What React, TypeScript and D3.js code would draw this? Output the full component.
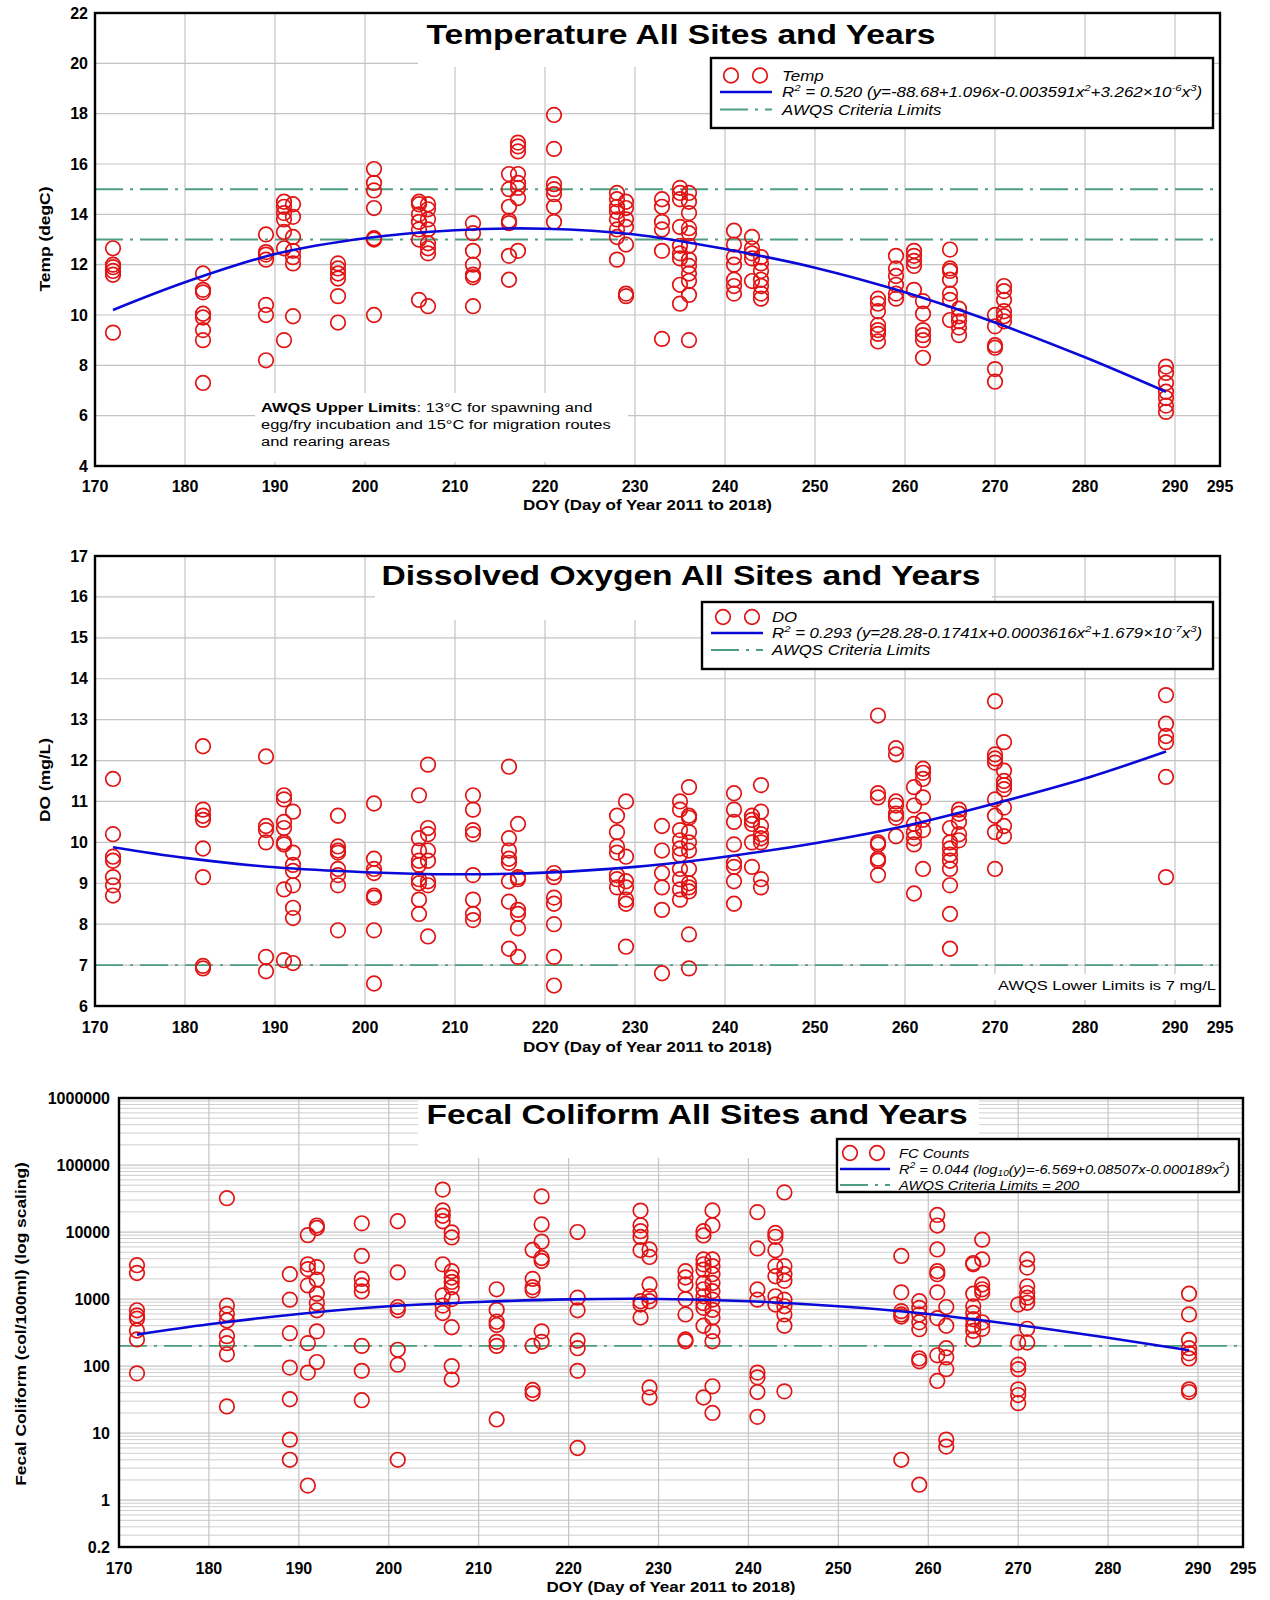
import * as d3 from "d3";

const FONT = "'Liberation Sans', Arial, Helvetica, sans-serif";
const RED = "#e01414";
const BLUE = "#0a0ad8";
const GREEN = "#4e9e80";
const GRID = "#c4c4c4";

// sampling days shared by the three panels
const sampleDays = [172, 182, 189, 191, 192, 197, 201, 206, 207, 212, 216, 217, 221, 228, 229, 233, 235, 236, 241, 243, 244, 257, 259, 261, 262, 265, 266, 270, 271, 289];

const tempByDay = [
  [12.65, 12.0, 11.9, 11.75, 11.6, 9.3],
  [11.65, 11.0, 10.9, 10.05, 9.9, 9.4, 9.0, 7.3],
  [13.2, 12.5, 12.4, 12.2, 10.4, 10.0, 8.2],
  [14.5, 14.3, 14.05, 13.8, 13.3, 12.65, 9.0],
  [14.4, 13.9, 13.1, 12.55, 12.3, 12.05, 9.95],
  [12.05, 11.85, 11.65, 11.45, 10.75, 9.7],
  [15.8, 15.25, 14.95, 14.25, 13.05, 13.0, 10.0],
  [14.5, 14.4, 14.0, 13.7, 13.4, 13.0, 10.6],
  [14.4, 14.2, 13.8, 13.4, 12.85, 12.65, 12.45, 10.35],
  [13.65, 13.25, 12.55, 12.0, 11.6, 11.5, 10.35],
  [15.6, 15.0, 14.3, 13.75, 13.65, 12.35, 11.4],
  [16.85, 16.7, 16.5, 15.6, 15.25, 15.05, 14.65, 12.55],
  [17.95, 16.6, 15.2, 15.0, 14.8, 14.3, 13.7],
  [14.85, 14.6, 14.3, 14.1, 13.8, 13.4, 13.1, 12.2],
  [14.5, 14.25, 13.8, 13.5, 12.8, 10.85, 10.75],
  [14.6, 14.3, 13.7, 13.4, 12.55, 9.05],
  [15.05, 14.85, 14.6, 13.5, 12.75, 12.45, 12.25, 11.2, 10.45],
  [14.85, 14.5, 14.05, 13.45, 13.25, 12.75, 12.2, 11.95, 11.65, 11.35, 10.8, 9.0],
  [13.35, 12.8, 12.3, 12.0, 11.4, 11.15, 10.85],
  [13.1, 12.65, 12.45, 12.25, 11.35],
  [12.3, 12.05, 11.75, 11.4, 11.15, 10.85, 10.65],
  [10.65, 10.45, 10.15, 9.6, 9.4, 9.25, 8.95],
  [12.35, 11.85, 11.55, 11.2, 10.85, 10.65],
  [12.55, 12.35, 12.15, 11.95, 11.0],
  [10.55, 10.05, 9.4, 9.2, 9.0, 8.3],
  [12.6, 11.85, 11.75, 11.4, 10.85, 10.6, 9.8],
  [10.25, 9.95, 9.75, 9.5, 9.2],
  [10.0, 9.55, 8.8, 8.7, 7.85, 7.35],
  [11.15, 10.95, 10.6, 10.15, 9.95, 9.75],
  [7.95, 7.7, 7.3, 6.95, 6.7, 6.4, 6.15],
];

const doByDay = [
  [11.55, 10.2, 9.65, 9.55, 9.15, 8.95, 8.7],
  [12.35, 10.8, 10.65, 10.55, 9.85, 9.15, 6.98, 6.92],
  [12.1, 10.4, 10.3, 10.0, 7.2, 6.85],
  [11.15, 11.05, 10.5, 10.35, 10.0, 9.95, 8.85, 7.12],
  [10.75, 9.75, 9.45, 9.3, 8.95, 8.4, 8.15, 7.05],
  [10.65, 9.9, 9.8, 9.75, 9.35, 9.2, 8.95, 7.85],
  [10.95, 9.6, 9.35, 9.25, 8.7, 8.65, 7.85, 6.55],
  [11.15, 10.1, 9.8, 9.55, 9.45, 9.1, 9.0, 8.6, 8.25],
  [11.9, 10.35, 10.2, 9.8, 9.55, 9.05, 8.95, 7.7],
  [11.15, 10.8, 10.3, 10.2, 9.2, 8.6, 8.25, 8.1],
  [11.85, 10.1, 9.8, 9.6, 9.5, 9.05, 8.55, 7.4],
  [10.45, 9.15, 9.1, 8.35, 8.25, 7.9, 7.2],
  [9.25, 9.15, 8.65, 8.5, 8.0, 7.2, 6.5],
  [10.65, 10.25, 9.9, 9.75, 9.2, 9.1, 8.9],
  [11.0, 9.65, 9.05, 8.9, 8.6, 8.5, 7.45],
  [10.4, 9.8, 9.25, 8.9, 8.35, 6.8],
  [11.0, 10.8, 10.3, 10.05, 9.85, 9.7, 9.35, 9.1, 8.85, 8.6],
  [11.35, 10.65, 10.6, 10.25, 10.0, 9.8, 9.35, 9.0, 8.9, 8.8, 7.75, 6.92],
  [11.2, 10.8, 10.5, 9.95, 9.5, 9.4, 9.05, 8.5],
  [10.65, 10.55, 10.45, 10.0, 9.4],
  [11.4, 10.75, 10.4, 10.2, 10.1, 10.0, 9.1, 8.9],
  [13.1, 11.2, 11.1, 10.0, 9.95, 9.6, 9.55, 9.2],
  [12.3, 12.15, 11.0, 10.9, 10.7, 10.6, 10.15],
  [11.35, 10.9, 10.45, 10.25, 10.1, 9.95, 8.75],
  [11.8, 11.7, 11.55, 11.1, 10.55, 10.3, 9.35],
  [10.35, 10.0, 9.85, 9.7, 9.55, 9.35, 8.95, 8.25, 7.4],
  [10.8, 10.7, 10.5, 10.2, 10.05],
  [13.45, 12.15, 12.05, 11.95, 11.05, 10.65, 10.25, 9.35],
  [12.45, 11.75, 11.5, 11.4, 11.3, 10.85, 10.4, 10.15],
  [13.6, 12.9, 12.6, 12.45, 11.6, 9.15],
];

const fcByDay = [
  [3200, 2450, 680, 570, 510, 340, 250, 78],
  [32000, 800, 600, 480, 280, 220, 150, 25],
  [2350, 980, 310, 95, 32, 8, 4],
  [9000, 3300, 2800, 1600, 220, 80, 1.65],
  [12500, 11500, 3000, 1950, 1200, 870, 680, 330, 115],
  [13500, 4400, 2000, 1600, 1300, 200, 85, 31],
  [14500, 2500, 760, 680, 175, 105, 4],
  [43000, 21000, 17500, 14500, 3300, 1130, 800, 620],
  [9900, 8300, 2600, 2100, 1800, 1500, 1000, 380, 100, 63],
  [1400, 690, 460, 410, 230, 200, 16],
  [5400, 2000, 1500, 1350, 200, 44, 39],
  [34000, 13000, 7200, 4100, 3700, 330, 230],
  [10000, 1050, 680, 240, 185, 85, 6],
  [20900, 12600, 10300, 8450, 5350, 930, 830, 530],
  [5500, 4250, 1650, 1100, 930, 48, 34],
  [2600, 2100, 1650, 1000, 590, 250, 235],
  [10300, 8900, 3900, 3300, 2750, 1740, 1400, 1100, 870, 740, 400, 34],
  [21000, 12600, 3900, 3100, 2350, 1740, 1310, 980, 690, 530, 330, 235, 50, 20],
  [19800, 5700, 1390, 980, 80, 68, 41, 17.5],
  [9700, 8500, 5350, 3100, 2190, 1100, 830],
  [39000, 3100, 2350, 1870, 980, 780, 590, 400, 42],
  [4400, 1260, 660, 590, 550, 4],
  [930, 740, 590, 450, 355, 130, 118, 1.7],
  [18000, 12500, 5500, 2600, 2350, 1260, 520, 145, 60],
  [760, 400, 185, 135, 90, 8, 6.3],
  [3450, 3300, 1200, 780, 620, 500, 400, 335, 250],
  [7700, 3900, 1650, 1400, 1250, 450, 360],
  [830, 225, 105, 90, 45, 37, 28],
  [3900, 2950, 1550, 1230, 1050, 880, 360, 225],
  [1200, 590, 245, 185, 155, 130, 45, 41],
];

// fitted curves
const fitDays = [172, 180, 190, 200, 210, 220, 230, 240, 250, 260, 270, 280, 289];
const tempFit = [10.2, 11.3, 12.42, 13.05, 13.37, 13.43, 13.2, 12.62, 11.88, 10.9, 9.7, 8.32, 6.95];
const doFit = [9.88, 9.62, 9.39, 9.27, 9.22, 9.26, 9.4, 9.65, 9.98, 10.4, 10.95, 11.56, 12.22];
const fcFit = [295, 420, 600, 780, 905, 990, 1005, 930, 780, 600, 410, 265, 172];

const xTicks = [170, 180, 190, 200, 210, 220, 230, 240, 250, 260, 270, 280, 290, 295];
const tempTicks = [4, 6, 8, 10, 12, 14, 16, 18, 20, 22];
const doTicks = [6, 7, 8, 9, 10, 11, 12, 13, 14, 15, 16, 17];
const fcTicks = [0.2, 1, 10, 100, 1000, 10000, 100000, 1000000];
const fcTickLabels = ["0.2", "1", "10", "100", "1000", "10000", "100000", "1000000"];
const tempLimits = [13, 15];
const doLimits = [7];
const fcLimits = [200];

// the source figure is stretched sideways; text follows the same stretch
const STRETCH = 1.2;

type Part = string | { sup: string } | { sub: string };

function Rich({ parts, size }: { parts: Part[]; size: number }) {
  let shift = 0;
  return (
    <>
      {parts.map((p, i) => {
        let target = 0;
        let text = "";
        let fs = size;
        if (typeof p === "string") {
          text = p;
        } else if ("sup" in p) {
          target = -size * 0.42;
          text = p.sup;
          fs = size * 0.68;
        } else {
          target = size * 0.22;
          text = p.sub;
          fs = size * 0.68;
        }
        const dy = target - shift;
        shift = target;
        return (
          <tspan key={i} dy={dy} fontSize={fs}>
            {text}
          </tspan>
        );
      })}
    </>
  );
}

function SText({ x, y, sx = STRETCH, rotate = 0, children, ...rest }: any) {
  const rot = rotate ? ` rotate(${rotate})` : "";
  return (
    <text transform={`translate(${x},${y})${rot} scale(${sx},1)`} {...rest}>
      {children}
    </text>
  );
}

type Legend = {
  box: [number, number, number, number];
  c1: number;
  c2: number;
  lineX: [number, number];
  textX: number;
  rows: [number, number, number];
  size: number;
  sx: number;
  labels: [Part[], Part[], Part[]];
};

type PanelProps = {
  left: number;
  right: number;
  top: number;
  bottom: number;
  log?: boolean;
  yDomain: [number, number];
  yTicks: number[];
  yTickLabels?: string[];
  tickRight: number;
  values: number[][];
  fit: number[];
  limits: number[];
  limitWidth: number;
  title: string;
  titleY: number;
  titleX: number;
  titleBox: [number, number, number, number];
  yLabel: string;
  yLabelX: number;
  yLabelY: number;
  xLabelY: number;
  xTickY: number;
  legend: Legend;
  noteBox?: [number, number, number, number];
  note?: any;
};

function Panel(p: PanelProps) {
  const x = d3.scaleLinear().domain([170, 295]).range([p.left, p.right]);
  const y: any = p.log
    ? d3.scaleLog().domain(p.yDomain).range([p.bottom, p.top])
    : d3.scaleLinear().domain(p.yDomain).range([p.bottom, p.top]);

  const fitLine = d3
    .line<number>()
    .x((_, i) => x(fitDays[i]))
    .y((v) => y(v))
    .curve(d3.curveCatmullRom.alpha(0.5));

  const majors = p.yTicks.filter((t) => t > p.yDomain[0] && t < p.yDomain[1]);
  const minors: number[] = [];
  if (p.log) {
    for (let e = -1; e <= 5; e++) {
      for (let k = 2; k <= 9; k++) {
        const v = k * Math.pow(10, e);
        if (v > p.yDomain[0] && v < p.yDomain[1]) minors.push(v);
      }
    }
  }
  const gridDays = xTicks.filter((d) => d > 170 && d < 295);
  const pts = sampleDays.flatMap((d, i) => p.values[i].map((v) => [d, v]));
  const lg = p.legend;

  return (
    <g fontFamily={FONT}>
      {/* grid */}
      {minors.map((v) => (
        <line key={"m" + v} x1={p.left} x2={p.right} y1={y(v)} y2={y(v)} stroke="#cfcfcf" strokeWidth={1} />
      ))}
      {majors.map((v) => (
        <line key={"h" + v} x1={p.left} x2={p.right} y1={y(v)} y2={y(v)} stroke={GRID} strokeWidth={1.2} />
      ))}
      {gridDays.map((d) => (
        <line key={"v" + d} x1={x(d)} x2={x(d)} y1={p.top} y2={p.bottom} stroke={GRID} strokeWidth={1.2} />
      ))}
      <rect
        x={p.titleBox[0]}
        y={p.titleBox[1]}
        width={p.titleBox[2] - p.titleBox[0]}
        height={p.titleBox[3] - p.titleBox[1]}
        fill="#fff"
      />
      {p.noteBox && (
        <rect
          x={p.noteBox[0]}
          y={p.noteBox[1]}
          width={p.noteBox[2] - p.noteBox[0]}
          height={p.noteBox[3] - p.noteBox[1]}
          fill="#fff"
        />
      )}
      {/* criteria limits */}
      {p.limits.map((v) => (
        <line
          key={"l" + v}
          x1={p.left}
          x2={p.right}
          y1={y(v)}
          y2={y(v)}
          stroke={GREEN}
          strokeWidth={p.limitWidth}
          strokeDasharray="28,7,3,7"
        />
      ))}
      {/* samples */}
      {pts.map(([d, v], i) => (
        <circle key={i} cx={x(d)} cy={y(v)} r={7.3} fill="none" stroke={RED} strokeWidth={1.7} />
      ))}
      <path d={fitLine(p.fit) || ""} fill="none" stroke={BLUE} strokeWidth={2.6} />
      {/* frame */}
      <rect x={p.left} y={p.top} width={p.right - p.left} height={p.bottom - p.top} fill="none" stroke="#000" strokeWidth={2.4} />
      {/* title */}
      <SText x={p.titleX} y={p.titleY} textAnchor="middle" fontSize={28} fontWeight="bold">
        {p.title}
      </SText>
      {p.note}
      {/* ticks */}
      {p.yTicks.map((t, i) => (
        <text key={"yt" + t} x={p.tickRight} y={y(t) + 5.5} textAnchor="end" fontSize={16} fontWeight="bold">
          {p.yTickLabels ? p.yTickLabels[i] : String(t)}
        </text>
      ))}
      {xTicks.map((t) => (
        <text key={"xt" + t} x={x(t)} y={p.xTickY} textAnchor="middle" fontSize={16} fontWeight="bold">
          {t}
        </text>
      ))}
      <SText x={(p.left + p.right) / 2 - 10} y={p.xLabelY} sx={1.17} textAnchor="middle" fontSize={14.5} fontWeight="bold">
        DOY (Day of Year 2011 to 2018)
      </SText>
      <SText x={p.yLabelX} y={p.yLabelY} rotate={-90} textAnchor="middle" fontSize={14.5} fontWeight="bold">
        {p.yLabel}
      </SText>
      {/* legend */}
      <rect
        x={lg.box[0]}
        y={lg.box[1]}
        width={lg.box[2] - lg.box[0]}
        height={lg.box[3] - lg.box[1]}
        fill="#fff"
        stroke="#000"
        strokeWidth={2.4}
      />
      <circle cx={lg.c1} cy={lg.rows[0]} r={7.3} fill="none" stroke={RED} strokeWidth={1.7} />
      <circle cx={lg.c2} cy={lg.rows[0]} r={7.3} fill="none" stroke={RED} strokeWidth={1.7} />
      <line x1={lg.lineX[0]} x2={lg.lineX[1]} y1={lg.rows[1]} y2={lg.rows[1]} stroke={BLUE} strokeWidth={2.6} />
      <line
        x1={lg.lineX[0]}
        x2={lg.lineX[1]}
        y1={lg.rows[2]}
        y2={lg.rows[2]}
        stroke={GREEN}
        strokeWidth={1.8}
        strokeDasharray="28,7,3,7"
      />
      {lg.labels.map((parts, i) => (
        <SText key={"lt" + i} x={lg.textX} y={lg.rows[i] + lg.size * 0.36} sx={lg.sx} fontSize={lg.size} fontStyle="italic">
          <Rich parts={parts} size={lg.size} />
        </SText>
      ))}
    </g>
  );
}

export default function App() {
  return (
    <svg
      width={1270}
      height={1600}
      style={{ position: "absolute", left: 0, top: 0, display: "block", background: "#fff" }}
    >
      <rect width={1270} height={1600} fill="#fff" />
      <Panel
        left={95}
        right={1220}
        top={13}
        bottom={466}
        yDomain={[4, 22]}
        yTicks={tempTicks}
        tickRight={88}
        values={tempByDay}
        fit={tempFit}
        limits={tempLimits}
        limitWidth={2}
        title="Temperature All Sites and Years"
        titleX={681}
        titleY={44}
        titleBox={[418, 14, 945, 67]}
        yLabel="Temp (degC)"
        yLabelX={50}
        yLabelY={239}
        xLabelY={510}
        xTickY={492}
        legend={{
          box: [711, 58, 1213, 128],
          c1: 731,
          c2: 760,
          lineX: [720, 772],
          textX: 782,
          rows: [75.5, 92, 109.5],
          size: 14,
          sx: 1.21,
          labels: [
            ["Temp"],
            ["R", { sup: "2" }, " = 0.520  (y=-88.68+1.096x-0.003591x", { sup: "2" }, "+3.262×10", { sup: "-6" }, "x", { sup: "3" }, ")"],
            ["AWQS Criteria Limits"],
          ],
        }}
        noteBox={[255, 393, 628, 462]}
        note={
          <SText x={261} y={0} sx={1.22} fontSize={13.5}>
            <tspan x={0} y={412}>
              <tspan fontWeight="bold">AWQS Upper Limits</tspan>: 13°C for spawning and
            </tspan>
            <tspan x={0} y={429}>egg/fry incubation and 15°C for migration routes</tspan>
            <tspan x={0} y={446}>and rearing areas</tspan>
          </SText>
        }
      />
      <Panel
        left={95}
        right={1220}
        top={556}
        bottom={1006}
        yDomain={[6, 17]}
        yTicks={doTicks}
        tickRight={88}
        values={doByDay}
        fit={doFit}
        limits={doLimits}
        limitWidth={1.6}
        title="Dissolved Oxygen All Sites and Years"
        titleX={681}
        titleY={585}
        titleBox={[375, 557, 992, 620]}
        yLabel="DO (mg/L)"
        yLabelX={50}
        yLabelY={780}
        xLabelY={1052}
        xTickY={1033}
        legend={{
          box: [702, 602, 1213, 669],
          c1: 723,
          c2: 752,
          lineX: [711, 763],
          textX: 772,
          rows: [617, 633, 650],
          size: 14,
          sx: 1.2,
          labels: [
            ["DO"],
            ["R", { sup: "2" }, " = 0.293 (y=28.28-0.1741x+0.0003616x", { sup: "2" }, "+1.679×10", { sup: "-7" }, "x", { sup: "3" }, ")"],
            ["AWQS Criteria Limits"],
          ],
        }}
        noteBox={[990, 974, 1218, 1000]}
        note={
          <SText x={1216} y={990} sx={1.22} textAnchor="end" fontSize={13.5}>
            AWQS Lower Limits is 7 mg/L
          </SText>
        }
      />
      <Panel
        left={119}
        right={1243}
        top={1098}
        bottom={1547}
        log
        yDomain={[0.2, 1000000]}
        yTicks={fcTicks}
        yTickLabels={fcTickLabels}
        tickRight={110}
        values={fcByDay}
        fit={fcFit}
        limits={fcLimits}
        limitWidth={1.6}
        title="Fecal Coliform All Sites and Years"
        titleX={697}
        titleY={1124}
        titleBox={[418, 1099, 979, 1158]}
        yLabel="Fecal Coliform (col/100ml) (log scaling)"
        yLabelX={26}
        yLabelY={1324}
        xLabelY={1592}
        xTickY={1574}
        legend={{
          box: [837, 1139, 1239, 1192],
          c1: 850,
          c2: 877,
          lineX: [840, 890],
          textX: 899,
          rows: [1153, 1169, 1185],
          size: 12.5,
          sx: 1.18,
          labels: [
            ["FC Counts"],
            ["R", { sup: "2" }, " = 0.044 (log", { sub: "10" }, "(y)=-6.569+0.08507x-0.000189x", { sup: "2" }, ")"],
            ["AWQS Criteria Limits = 200"],
          ],
        }}
      />
    </svg>
  );
}
